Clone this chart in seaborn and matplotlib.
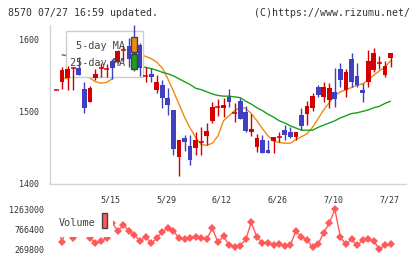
import numpy as np
import pandas as pd
import seaborn as sns
import matplotlib
matplotlib.use("Agg")
import matplotlib.pyplot as plt
from matplotlib.patches import Rectangle

# daily candles (slot 0 .. 60)
opens = [1529, 1540, 1546, 1560, 1560, 1531, 1513, 1546, 1560, 1559,
         1569, 1568, 1585, 1590, 1590, 1592, 1549, 1551, 1529, 1536,
         1519, 1502, 1437, 1463, 1452, 1450, 1457, 1466, 1486, 1506,
         1505, 1520, 1498, 1514, 1499, 1471, 1451, 1460, 1447, 1459,
         1464, 1474, 1471, 1465, 1495, 1496, 1505, 1534, 1520, 1516,
         1527, 1559, 1529, 1572, 1549, 1530, 1541, 1557, 1567, 1550, 1574]
highs = [1529, 1561, 1563, 1562, 1575, 1541, 1535, 1559, 1567, 1566,
         1572, 1585, 1590, 1601, 1619, 1595, 1562, 1560, 1550, 1543,
         1532, 1502, 1460, 1467, 1467, 1472, 1478, 1484, 1513, 1517,
         1519, 1531, 1511, 1519, 1508, 1496, 1469, 1467, 1460, 1464,
         1472, 1481, 1479, 1472, 1504, 1514, 1525, 1536, 1540, 1539,
         1560, 1567, 1559, 1580, 1567, 1539, 1585, 1587, 1577, 1569, 1580]
lows = [1529, 1531, 1530, 1530, 1550, 1498, 1513, 1543, 1548, 1547,
        1545, 1567, 1569, 1562, 1556, 1549, 1540, 1540, 1525, 1505,
        1495, 1440, 1411, 1445, 1426, 1440, 1440, 1454, 1484, 1493,
        1492, 1506, 1485, 1489, 1471, 1466, 1444, 1442, 1442, 1443,
        1458, 1460, 1463, 1460, 1474, 1481, 1501, 1520, 1513, 1504,
        1506, 1534, 1520, 1534, 1533, 1513, 1534, 1555, 1559, 1547, 1562]
closes = [1529, 1557, 1559, 1560, 1550, 1504, 1532, 1552, 1560, 1559,
          1560, 1583, 1585, 1572, 1560, 1560, 1549, 1548, 1540, 1518,
          1509, 1448, 1460, 1458, 1433, 1460, 1457, 1473, 1506, 1506,
          1509, 1513, 1498, 1489, 1473, 1476, 1463, 1442, 1443, 1464,
          1464, 1467, 1465, 1471, 1480, 1507, 1521, 1523, 1534, 1532,
          1517, 1543, 1554, 1541, 1536, 1526, 1570, 1580, 1567, 1563, 1580]

# moving averages, from slot 1
ma5 = [1546, 1545, 1552, 1553, 1552, 1546, 1541, 1539, 1540, 1545,
       1552, 1560, 1567, 1573, 1579, 1576, 1573, 1568, 1560, 1545,
       1528, 1510, 1492, 1477, 1464, 1454, 1453, 1456, 1466, 1487,
       1494, 1501, 1506, 1504, 1497, 1487, 1476, 1466, 1459, 1457,
       1456, 1456, 1461, 1465, 1469, 1478, 1490, 1502, 1512, 1522,
       1527, 1530, 1533, 1536, 1538, 1543, 1550, 1556, 1561, 1570]
ma25 = [1578, 1577, 1576, 1575, 1574, 1573, 1572, 1571, 1570, 1569,
        1568, 1566, 1565, 1564, 1562, 1561, 1559, 1557, 1554, 1552,
        1549, 1545, 1541, 1537, 1532, 1530, 1527, 1524, 1522, 1521,
        1521, 1520, 1519, 1514, 1510, 1505, 1501, 1496, 1492, 1487,
        1484, 1480, 1477, 1474, 1474, 1474, 1478, 1481, 1484, 1487,
        1491, 1494, 1497, 1498, 1500, 1502, 1505, 1507, 1511, 1514]

volume = [950000, 451000, 950000, 550400, 950000, 930000, 550400, 418800, 468400, 550400,
          930000, 724200, 873200, 731600, 624900, 475900, 582700, 418800, 542900, 706800,
          791200, 731600, 542900, 525500, 557800, 582700, 542900, 525500, 791200, 443600,
          592600, 376600, 334400, 359200, 518100, 940200, 567800, 426200, 433700, 376600,
          401400, 351700, 369100, 724200, 567800, 513100, 314500, 393900, 686900, 915400,
          1263000, 567800, 393900, 520600, 369100, 493300, 520600, 475900, 269800, 376600, 393900]

date_labels = ["5/15", "5/29", "6/12", "6/26", "7/10", "7/27"]
price_ticks = [1400, 1500, 1600]
vol_ticks = [269800, 766400, 1263000]

RED = "#d40000"
BLUE = "#4040c0"
ORANGE = "#f08a10"
GREEN = "#18a018"
VCOL = "#ff5a5a"
AXC = "#d4d4d4"
TXT = "#333333"

sns.set_style("white")
plt.rcParams["font.family"] = ["DejaVu Sans Mono", "DejaVu Sans"]

W, H = 420, 259
fig = plt.figure(figsize=(W / 100, H / 100), dpi=100)


def fx(px):
    return px / W


def fy(py):
    return 1 - py / H


ax = fig.add_axes([fx(50), fy(183.7), (405.7 - 50) / W, (183.7 - 25) / H])
axv = fig.add_axes([fx(50), fy(249.3), (405.7 - 50) / W, (249.3 - 209.3) / H])

df = pd.DataFrame({"open": opens, "high": highs, "low": lows, "close": closes, "volume": volume})
df["slot"] = np.arange(len(df))
x = df["slot"].to_numpy()
o = df["open"].to_numpy()
c = df["close"].to_numpy()
up = c >= o
cols = np.where(up, RED, BLUE)
doji = o == c

# candles
ax.vlines(x, df["low"], df["high"], colors=cols, lw=1, zorder=4)
ax.bar(x[~doji], np.abs(c - o)[~doji], bottom=np.minimum(o, c)[~doji], width=0.85,
       color=cols[~doji], lw=0, zorder=4)
ax.hlines(c[doji], x[doji] - 0.45, x[doji] + 0.45, colors=cols[doji], lw=1.1, zorder=4)

# moving averages
sns.lineplot(x=x[1:], y=ma5, ax=ax, color=ORANGE, linewidth=1, estimator=None, zorder=2)
sns.lineplot(x=x[1:], y=ma25, ax=ax, color=GREEN, linewidth=1, estimator=None, zorder=2)

xmin, xmax = -1.168, 62.73
ax.set_xlim(xmin, xmax)
ax.set_ylim(1400, 1619.4)
ax.set_yticks(price_ticks)
ax.set_yticklabels([str(t) for t in price_ticks])
ax.set_xticks(np.linspace(xmin, xmax, 12))
ax.set_xticklabels([])
ax.set_xticks(np.arange(len(date_labels)) * 10.02 + 9.66, minor=True)
ax.set_xticklabels(date_labels, minor=True)
ax.tick_params(axis="y", length=3.6, width=1, color=AXC, labelsize=6, labelcolor=TXT, pad=4)
ax.tick_params(axis="x", which="major", direction="inout", length=5.2, width=1, color=AXC)
ax.tick_params(axis="x", which="minor", length=0, labelsize=6, labelcolor=TXT, pad=8.5)
for s in ["top", "right"]:
    ax.spines[s].set_visible(False)
for s in ["left", "bottom"]:
    ax.spines[s].set_color(AXC)
    ax.spines[s].set_linewidth(1)
ax.set_xlabel("")
ax.set_ylabel("")

# price legend box
ax.add_patch(Rectangle((fx(65.7), fy(77.3)), (143.3 - 65.7) / W, (77.3 - 30.7) / H,
                       transform=fig.transFigure, facecolor="white", edgecolor="#cccccc",
                       lw=1, zorder=3, clip_on=False))
ax.add_patch(Rectangle((fx(131), fy(52.3)), 6.3 / W, 15 / H, transform=fig.transFigure,
                       facecolor=ORANGE, edgecolor="#444444", lw=1, zorder=5, clip_on=False))
ax.add_patch(Rectangle((fx(131), fy(69.3)), 6.3 / W, 15 / H, transform=fig.transFigure,
                       facecolor=GREEN, edgecolor="#444444", lw=1, zorder=5, clip_on=False))
fig.text(fx(76), fy(46), "5-day MA", fontsize=7.3, color="#444444", va="center", ha="left")
fig.text(fx(70), fy(62.7), "25-day MA", fontsize=7.3, color="#444444", va="center", ha="left")

# volume
sns.lineplot(data=df, x="slot", y="volume", ax=axv, color=VCOL, linewidth=1, marker="D",
             markersize=3.8, markeredgewidth=0, estimator=None, clip_on=False, zorder=2)
axv.set_xlim(xmin, xmax)
axv.set_ylim(269800, 1263000)
axv.set_yticks(vol_ticks)
axv.set_yticklabels([str(t) for t in vol_ticks])
axv.set_xticks([])
axv.tick_params(axis="y", length=0, labelsize=6, labelcolor=TXT, pad=4.3)
for s in axv.spines.values():
    s.set_visible(False)
axv.set_xlabel("")
axv.set_ylabel("")
axv.patch.set_alpha(0)
axv.add_patch(Rectangle((fx(52), fy(237.4)), (113 - 52) / W, (237.4 - 203) / H,
                        transform=fig.transFigure, facecolor="white", edgecolor="none",
                        zorder=3, clip_on=False))
axv.add_patch(Rectangle((fx(101.7), fy(228.3)), 5.6 / W, 15 / H, transform=fig.transFigure,
                        facecolor=VCOL, edgecolor="#444444", lw=1, zorder=5, clip_on=False))
fig.text(fx(58.5), fy(222.5), "Volume", fontsize=7.3, color="#444444", va="center", ha="left")

# header
fig.text(fx(8), fy(13), "8570 07/27 16:59 updated.", fontsize=7.1, color=TXT, va="center", ha="left")
fig.text(fx(410), fy(13), "(C)https://www.rizumu.net/", fontsize=7.1, color=TXT, va="center", ha="right")

fig.savefig("out.png", dpi=100)
